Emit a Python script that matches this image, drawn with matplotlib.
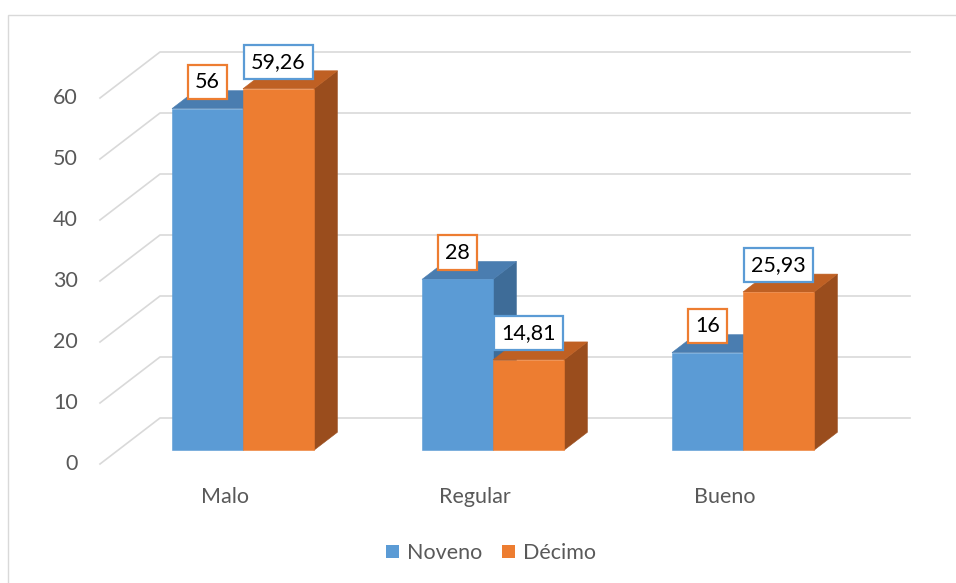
import matplotlib.pyplot as plt
from matplotlib.patches import Polygon, Rectangle, Patch

# datos del grafico
categorias = ['Malo', 'Regular', 'Bueno']
series = ['Noveno', 'Décimo']
noveno = [56, 28, 16]
decimo = [59.26, 14.81, 25.93]
ticks_y = [0, 10, 20, 30, 40, 50, 60]

# colores (frente, arriba, lado) y borde de etiqueta
colores = {
    'Noveno': ('#5B9BD5', '#4A7DB0', '#3E6C98'),
    'Décimo': ('#ED7D31', '#BF6023', '#9A4D1D'),
}
borde_etiqueta = {'Noveno': '#ED7D31', 'Décimo': '#5B9BD5'}

plt.rcParams['font.family'] = ['Lato', 'DejaVu Sans']
FS = 15.5

W, H = 956, 583
fig = plt.figure(figsize=(W / 100, H / 100), dpi=100)
ax = fig.add_axes([0, 0, 1, 1])
ax.set_axis_off()

# escala: x en categorias, y en valores (plano frontal)
PX_X = 250.0
PX_V = 6.1
X0_PX, V0_PX = 100, 464
ax.set_xlim(-X0_PX / PX_X, (W - X0_PX) / PX_X)
ax.set_ylim((V0_PX - H) / PX_V, V0_PX / PX_V)

# profundidad 3D
DX = 60 / PX_X
DY = 46 / PX_V
T0, T1 = 0.30, 0.69
ANCHO = 71 / PX_X


def proj(x, v, t):
    return (x + DX * t, v + DY * t)


# rejilla: diagonales + pared del fondo
for v in ticks_y:
    p0 = proj(0, v, 0)
    p1 = proj(0, v, 1)
    p2 = proj(len(categorias), v, 1)
    ax.plot([p0[0], p1[0], p2[0]], [p0[1], p1[1], p2[1]], color='#D9D9D9', lw=1.2, zorder=1)
    ax.text(-22 / PX_X, v, str(v), ha='right', va='center', fontsize=FS, color='#595959')


def barra(x0, x1, v, c):
    frente, arriba, lado = c
    caras = [
        ([proj(x1, 0, T0), proj(x1, 0, T1), proj(x1, v, T1), proj(x1, v, T0)], lado),
        ([proj(x0, v, T0), proj(x1, v, T0), proj(x1, v, T1), proj(x0, v, T1)], arriba),
        ([proj(x0, 0, T0), proj(x1, 0, T0), proj(x1, v, T0), proj(x0, v, T0)], frente),
    ]
    for pts, col in caras:
        ax.add_patch(Polygon(pts, closed=True, fc=col, ec=col, lw=0.4, zorder=2))


for i, cat in enumerate(categorias):
    centro = i + 0.5
    for j, (nombre, valores) in enumerate(zip(series, [noveno, decimo])):
        x0 = centro - ANCHO + j * ANCHO
        x1 = x0 + ANCHO
        barra(x0, x1, valores[i], colores[nombre])
    ax.text(centro, -5.4, cat, ha='center', va='center', fontsize=FS, color='#595959')

# etiquetas de datos
for i in range(len(categorias)):
    centro = i + 0.5
    for j, (nombre, valores) in enumerate(zip(series, [noveno, decimo])):
        x0 = centro - ANCHO + j * ANCHO
        xc, yc = proj(x0 + ANCHO / 2, valores[i], T0)
        txt = f'{valores[i]:g}'.replace('.', ',')
        ax.text(xc, yc + 4.4, txt, ha='center', va='center', fontsize=FS, color='black', zorder=5,
                bbox=dict(boxstyle='square,pad=0.33', fc='white', ec=borde_etiqueta[nombre], lw=1.6))

# leyenda
handles = [Patch(fc=colores[s][0], ec='none') for s in series]
ax.legend(handles, series, loc='center', bbox_to_anchor=(491 / W, 1 - 553 / H), ncol=2,
          frameon=False, fontsize=FS, labelcolor='#595959', handlelength=0.6, handleheight=0.6,
          handletextpad=0.4, columnspacing=0.9)

# borde del area del grafico
fig.add_artist(Rectangle((8 / W, -0.02), 1.0, 1 - 15 / H + 0.02, transform=fig.transFigure,
                         fill=False, ec='#D9D9D9', lw=1))

fig.savefig('out.png', dpi=100)
